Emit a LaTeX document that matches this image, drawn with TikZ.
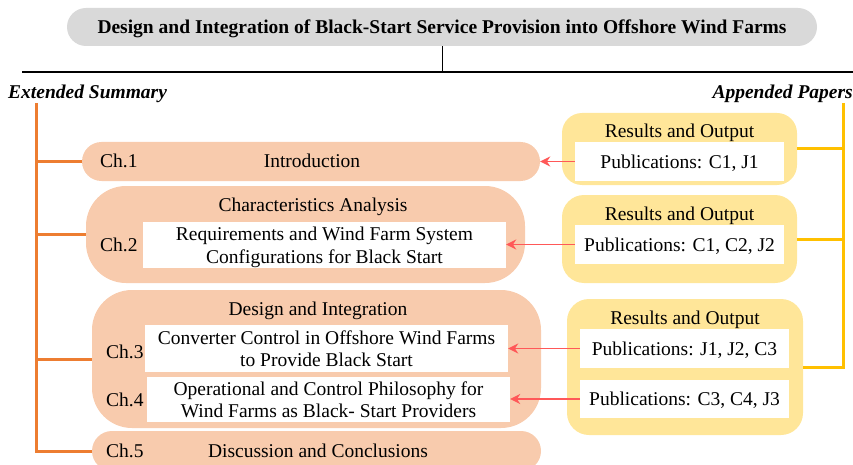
\documentclass[tikz,border=0pt]{standalone}
\usepackage{fontspec}
\setmainfont{Liberation Serif}
\usetikzlibrary{arrows.meta}
\definecolor{peach}{RGB}{248,203,173}
\definecolor{paleyellow}{RGB}{255,230,153}
\definecolor{trunkorange}{RGB}{237,125,49}
\definecolor{trunkgold}{RGB}{255,192,0}
\definecolor{linkred}{RGB}{255,88,88}
\definecolor{titlegray}{RGB}{217,217,217}
\begin{document}
\begin{tikzpicture}[x=1pt,y=-1pt,
  every node/.style={font=\fontsize{19.5}{22.5}\selectfont, text=black, text depth=0pt},
  box/.style={draw=none, inner sep=0pt, anchor=center},
  chapterbox/.style={box, fill=peach},
  resultbox/.style={box, fill=paleyellow},
  whitebox/.style={box, fill=white, align=center},
  heading/.style={inner sep=0pt, anchor=center},
  chlabel/.style={inner sep=0pt, anchor=west},
  side/.style={inner sep=0pt, font=\fontsize{19.5}{22.5}\selectfont\bfseries\itshape},
  orangeline/.style={draw=trunkorange, line width=3pt},
  goldline/.style={draw=trunkgold, line width=3pt},
  link/.style={draw=linkred, line width=1.8pt, -{Stealth[length=10pt,width=10pt]}}
]
\useasboundingbox (0,0) rectangle (853,465);
\clip (0,0) rectangle (853,465);

% title and top rule
\node[box, fill=titlegray, rounded corners=19pt, minimum width=750pt, minimum height=38pt,
      font=\fontsize{19.5}{22.5}\selectfont\bfseries] (title) at (442,27)
  {Design and Integration of Black-Start Service Provision into Offshore Wind Farms};
\coordinate (ruleL) at (22,72);
\coordinate (ruleR) at (853,72);
\draw[line width=1.4pt] (ruleL) -- (ruleR);
\draw[line width=1pt] (title.south) -- (title.south |- ruleL);

\node[side, anchor=west] (es) at (8,92) {Extended Summary};
\node[side, anchor=east] (ap) at (853,92) {Appended Papers};

% chapter boxes
\node[chapterbox, rounded corners=19.5pt, minimum width=458pt, minimum height=39pt] (ch1) at (311,161.5) {};
\node[chapterbox, rounded corners=40pt, minimum width=439pt, minimum height=97pt] (ch2) at (305.5,234.5) {};
\node[chapterbox, rounded corners=40pt, minimum width=449pt, minimum height=138pt] (grp) at (316.5,359) {};
\node[chapterbox, rounded corners=20pt, minimum width=449pt, minimum height=40pt] (ch5) at (316.5,451) {};

\node[whitebox, minimum width=363pt, minimum height=46pt] (w2) at (324.5,245)
  {Requirements and Wind Farm System\\Configurations for Black Start};
\node[whitebox, minimum width=363pt, minimum height=47pt] (w3) at (326.5,348.5)
  {Converter Control in Offshore Wind Farms\\to Provide Black Start};
\node[whitebox, minimum width=363pt, minimum height=45pt] (w4) at (328.5,399.5)
  {Operational and Control Philosophy for\\Wind Farms as Black- Start Providers};

\node[heading] (t1) at (312,161) {Introduction};
\node[heading] (t2) at (313,205) {Characteristics Analysis};
\node[heading] (t3) at (318,309) {Design and Integration};
\node[heading] (t5) at (318,451) {Discussion and Conclusions};

\node[chlabel] (c1) at (100,161) {Ch.1};
\node[chlabel] (c2) at (100,245) {Ch.2};
\node[chlabel] (c3) at (106,352) {Ch.3};
\node[chlabel] (c4) at (106,400) {Ch.4};
\node[chlabel] (c5) at (106,451) {Ch.5};

% result boxes
\node[resultbox, rounded corners=20pt, minimum width=235pt, minimum height=72pt] (y1) at (679.5,149) {};
\node[resultbox, rounded corners=22pt, minimum width=235pt, minimum height=88pt] (y2) at (679.5,239) {};
\node[resultbox, rounded corners=22pt, minimum width=236pt, minimum height=136pt] (y3) at (685,367) {};

\node[heading] (r1) at (679.5,131) {Results and Output};
\node[heading] (r2) at (679.5,214) {Results and Output};
\node[heading] (r3) at (685,318) {Results and Output};

\node[whitebox, minimum width=209pt, minimum height=39pt] (p1) at (679.5,161.5) {Publications: C1, J1};
\node[whitebox, minimum width=209pt, minimum height=39pt] (p2) at (679.5,244.5) {Publications: C1, C2, J2};
\node[whitebox, minimum width=209pt, minimum height=39pt] (p3) at (684.5,348.5) {Publications: J1, J2, C3};
\node[whitebox, minimum width=209pt, minimum height=38pt] (p4) at (684.5,399) {Publications: C3, C4, J3};

% left trunk
\coordinate (otop) at (36,103);
\coordinate (obot) at (36,452.5);
\draw[orangeline] (otop) -- (obot);
\draw[orangeline] (ch1.west -| otop) -- (ch1.west);
\draw[orangeline] (ch2.west -| otop) -- (ch2.west);
\draw[orangeline] (grp.west -| otop) -- (grp.west);
\draw[orangeline] (ch5.west -| otop) -- (ch5.west);

% right trunk
\coordinate (gtop) at (843,103);
\coordinate (gbot) at (843,368.5);
\draw[goldline] (gtop) -- (gbot);
\draw[goldline] (y1.east) -- (y1.east -| gtop);
\draw[goldline] (y2.east) -- (y2.east -| gtop);
\draw[goldline] (y3.east) -- (y3.east -| gtop);

% links
\draw[link] (p1.west) -- (p1.west -| ch1.east);
\draw[link] (p2.west) -- (p2.west -| w2.east);
\draw[link] (p3.west) -- (p3.west -| w3.east);
\draw[link] (p4.west) -- (p4.west -| w4.east);
\end{tikzpicture}
\end{document}
